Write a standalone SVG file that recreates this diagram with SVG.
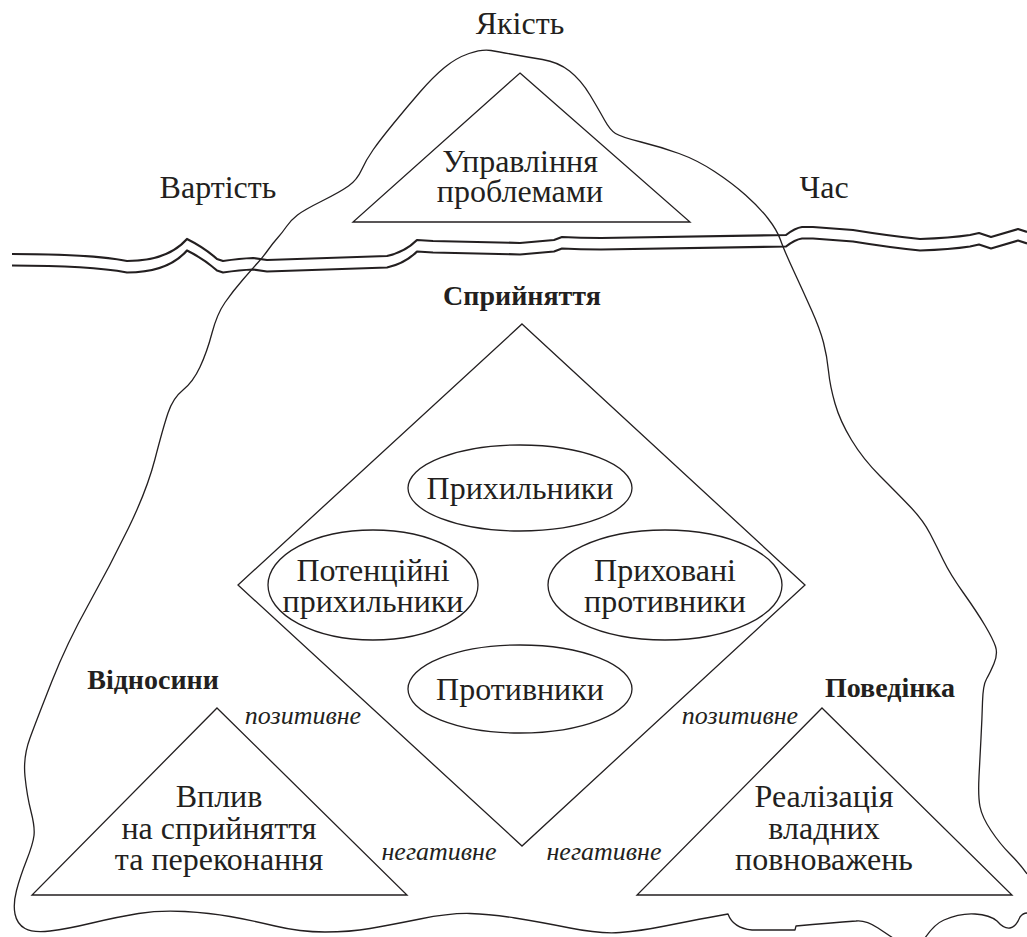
<svg xmlns="http://www.w3.org/2000/svg" width="1027" height="937" viewBox="0 0 1027 937">
<style>
.ln{fill:none;stroke:#231f20;stroke-width:1.3;stroke-linejoin:round}
.wl{fill:none;stroke:#231f20;stroke-width:2.2;stroke-linejoin:round}
.sh{fill:none;stroke:#231f20;stroke-width:1.3}
text{font-family:'Liberation Serif','Times New Roman',serif;fill:#231f20;text-anchor:middle}
.t{font-size:32px}
.b{font-size:28px;font-weight:bold}
.i{font-size:26px;font-style:italic}
</style>
<rect width="1027" height="937" fill="#fff"/>
<g id="iceberg">
<path class="ln" d="M1027,874 Q1020,864 1010,854 Q1000,844 991,830.5 Q982,817 980,806.5 Q978,796 979,776.5 Q980,757 981,738 Q982,719 982.5,702 Q983,685 986.5,679 Q990,673 994,663.5 Q998,654 995.5,646.5 Q993,639 985,625.5 Q977,612 963.5,593 Q950,574 943.5,560.5 Q937,547 930,533.5 Q923,520 910,506.5 Q897,493 880,476 Q863,459 851.5,440 Q840,421 835,403.5 Q830,386 828.5,371 Q827,356 823.5,342.5 Q820,329 811.5,310 Q803,291 793.5,270.5 Q784,250 780.5,240 Q777,230 768,218.5 Q759,207 745.5,195 Q732,183 714.5,171.5 Q697,160 679,153.5 Q661,147 641,142 Q621,137 615.5,133.5 Q610,130 604.5,120 Q599,110 590,95 Q581,80 569.5,71 Q558,62 542.5,59.5 Q527,57 513.5,54.5 Q500,52 491,50.5 Q482,49 469,53.5 Q456,58 444.5,67.5 Q433,77 420,92 Q407,107 393.5,123.5 Q380,140 373,150 Q366,160 361.5,170 Q357,180 348.5,186 Q340,192 322,201 Q304,210 297.5,215 Q291,220 286.5,226.5 Q282,233 277.5,238 Q273,243 268,250 Q263,257 258,262.5 Q253,268 243,279.5 Q233,291 225,302.5 Q217,314 212,333 Q207,352 200,367 Q193,382 183,390 Q173,398 168,413 Q163,428 155,459 Q147,490 128.5,528 Q110,566 88.5,604.5 Q67,643 52,681 Q37,719 30,738 Q23,757 25,776.5 Q27,796 31,811.5 Q35,827 34,835.5 Q33,844 26.5,860.5 Q20,877 16.5,890.5 Q13,904 15,914 Q17,924 25,928.5 Q33,933 50,931 Q67,929 92,923 Q117,917 138.5,913.5 Q160,910 185,911.5 Q210,913 230,916.5 Q250,920 275,926 Q300,932 325,932 Q350,932 370,928.5 Q390,925 420,919 Q450,913 470,913.5 Q490,914 515,918 Q540,922 570,928 Q600,934 620,932.5 Q640,931 665,926 Q690,921 709,917.5 L728,914 Q733,928 752,930 L795,930 L796,926 Q830,923 856,921 Q866,920 878,928 L905,946"/>
<path class="ln" d="M920,946 Q932,925 944,920 Q960,913 975,914 Q990,915 997,921 Q1004,929 1010,928 Q1016,927 1020,917 Q1023,913 1027,913"/>
</g>
<g id="waterline">
<path id="wtop" class="wl" d="M12,254 Q90,254 127,261 C150,261 172,256 187,239 C197,244 207,250 217,259 L223,261 Q240,258.5 253,258 L267,260 L387,256 Q405,252 417,240 L433,241 L520,243 L554,240 L562,237 Q580,238 601,238 L786,235 Q795,228 802,227 L813,227 L853,230 Q890,236 920,239 Q950,238 970,235 L979,233 L991,237 L1018,229 L1027,232"/>
<use href="#wtop" transform="translate(0,11.5)"/>
</g>
<g id="labels-top">
<text class="t" x="520" y="34">Якість</text>
<text class="t" x="218" y="198">Вартість</text>
<text class="t" x="824" y="198">Час</text>
</g>
<g id="node-problem">
<polygon class="sh" points="520,73 690,222 353,222"/>
<text class="t" x="520" y="172">Управління<tspan x="520" dy="30">проблемами</tspan></text>
</g>
<g id="node-perception">
<text class="b" x="522" y="305">Сприйняття</text>
<polygon class="sh" points="522,324 805,585 522,846 238,585"/>
</g>
<g id="node-supporters">
<ellipse class="sh" cx="520" cy="488" rx="112" ry="43"/>
<text class="t" x="520" y="499">Прихильники</text>
</g>
<g id="node-potential">
<ellipse class="sh" cx="373" cy="585" rx="105" ry="55"/>
<text class="t" x="373" y="581">Потенційні<tspan x="373" dy="31">прихильники</tspan></text>
</g>
<g id="node-hidden">
<ellipse class="sh" cx="665" cy="585" rx="117" ry="55"/>
<text class="t" x="665" y="581">Приховані<tspan x="665" dy="31">противники</tspan></text>
</g>
<g id="node-opponents">
<ellipse class="sh" cx="520" cy="689" rx="112" ry="44"/>
<text class="t" x="520" y="700">Противники</text>
</g>
<g id="node-relations">
<text class="b" x="153" y="689">Відносини</text>
<polygon class="sh" points="217,708 407,895 32,895"/>
<text class="t" x="219" y="807">Вплив<tspan x="219" dy="32">на сприйняття</tspan><tspan x="219" dy="31">та переконання</tspan></text>
</g>
<g id="node-behaviour">
<text class="b" x="890" y="697">Поведінка</text>
<polygon class="sh" points="822,708 1012,895 637,895"/>
<text class="t" x="824" y="807">Реалізація<tspan x="824" dy="32">владних</tspan><tspan x="824" dy="31">повноважень</tspan></text>
</g>
<g id="connectors">
<text class="i" x="303" y="724">позитивне</text>
<text class="i" x="740" y="724">позитивне</text>
<text class="i" x="439" y="860">негативне</text>
<text class="i" x="604" y="860">негативне</text>
</g>
</svg>
